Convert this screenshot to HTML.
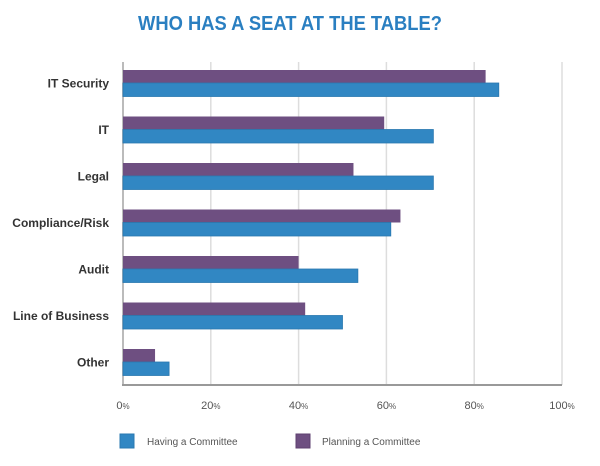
<!DOCTYPE html>
<html><head><meta charset="utf-8"><style>
html,body{margin:0;padding:0;background:#fff;}
svg{display:block;font-family:"Liberation Sans",sans-serif;}
</style></head><body>
<svg id="chart" width="600" height="466" viewBox="0 0 600 466">
<text x="138" y="30" font-size="20" font-weight="bold" fill="#2a7fc1" textLength="304" lengthAdjust="spacingAndGlyphs">WHO HAS A SEAT AT THE TABLE?</text>
<g id="grid"></g><g id="bars"></g><g id="labels"></g><g id="ticks"></g>
<g>
<rect x="120" y="434" width="14" height="14" fill="#3187c3" stroke="#2a78b0"/>
<text x="147" y="445" font-size="10" fill="#555">Having a Committee</text>
<rect x="296" y="434" width="14" height="14" fill="#6e4f81" stroke="#5f4270"/>
<text x="322" y="445" font-size="10" fill="#555">Planning a Committee</text>
</g>
</svg>
<script>
const categories=["IT Security","IT","Legal","Compliance/Risk","Audit","Line of Business","Other"];
const having=[85.6,70.7,70.7,61,53.5,50,10.5];
const planning=[82.6,59.5,52.5,63.2,40,41.5,7.3];
const tickValues=[0,20,40,60,80,100];
const NS="http://www.w3.org/2000/svg";
const x0=123,x1=562,plotTop=62,plotBottom=385,step=46.5,firstC=83.5;
const xs=v=>x0+(x1-x0)*v/100;
const yc=i=>firstC+i*step;
function mk(t,a,p){const e=document.createElementNS(NS,t);for(const k in a)e.setAttribute(k,a[k]);p.appendChild(e);return e;}
const grid=document.getElementById('grid'),bars=document.getElementById('bars'),labels=document.getElementById('labels'),ticks=document.getElementById('ticks');
tickValues.forEach(v=>{
 const l=mk('line',{x1:xs(v),x2:xs(v),y1:plotTop,y2:plotBottom,stroke:v===0?'#bbb':'#ddd','stroke-width':v===0?2:1.5},grid);
 
 
 const t=mk('text',{x:xs(v),y:409,'font-size':11,fill:'#555','text-anchor':'middle'},ticks);
 
 
 t.textContent=v;
 const s=mk('tspan',{'font-size':8},t);s.textContent='%';
});
const ax=mk('line',{x1:x0-1,x2:x1,y1:plotBottom,y2:plotBottom,stroke:'#999','stroke-width':2},grid);


categories.forEach((c,i)=>{
 const y=yc(i);
 const p=mk('rect',{x:x0,y:y-13.5,width:xs(planning[i])-x0,height:13,fill:'#6e4f81'},bars);
 
 
 const h=mk('rect',{x:x0,y:y-0.5,width:xs(having[i])-x0,height:13.5,fill:'#3187c3',stroke:'#2a78b0','stroke-width':0.8},bars);
 
 
 const t=mk('text',{x:109,y:y+4,'font-size':12,'font-weight':'bold',fill:'#333','text-anchor':'end'},labels);
 
 
 t.textContent=c;
});
</script>
</body></html>
